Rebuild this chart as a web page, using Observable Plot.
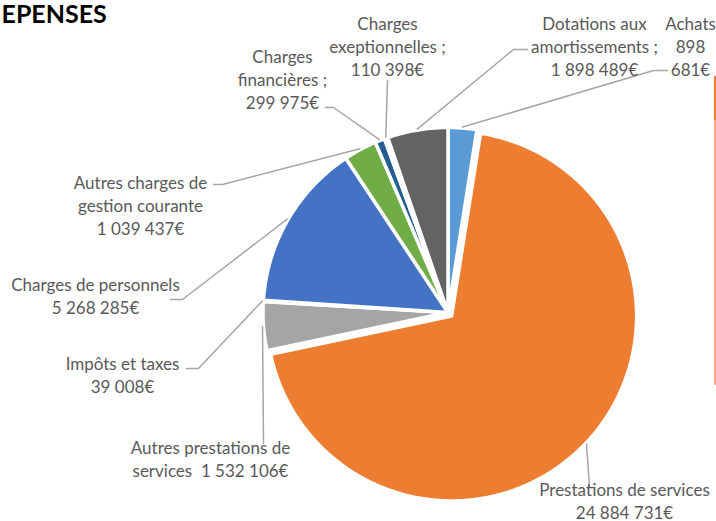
<!DOCTYPE html>
<html><head><meta charset="utf-8">
<script src="https://cdn.jsdelivr.net/npm/d3@7"></script>
<script src="https://cdn.jsdelivr.net/npm/@observablehq/plot@0.6"></script>
<style>
html,body{margin:0;padding:0;background:#fff;}
#wrap{position:relative;width:716px;height:521px;overflow:hidden;}
.edge{position:absolute;left:714px;width:2px;}
</style></head><body><div id="wrap"></div>
<script>
const title = "EPENSES";
const categories = ["Achats","Prestations de services","Autres prestations de services","Impôts et taxes","Charges de personnels","Autres charges de gestion courante","Charges financières","Charges exceptionnelles","Dotations aux amortissements"];
const values = [898681,24884731,1532106,39008,5268285,1039437,299975,110398,1898489];
const labelTexts = ["Achats\n898\n681€","Prestations de services\n24 884 731€","Autres prestations de\nservices  1 532 106€","Impôts et taxes\n39 008€","Charges de personnels\n5 268 285€","Autres charges de\ngestion courante\n1 039 437€","Charges\nfinancières ;\n299 975€","Charges\nexeptionnelles ;\n110 398€","Dotations aux\namortissements ;\n1 898 489€"];
const colors = ["#5B9BD5","#ED7D31","#A5A5A5","#FFC000","#4472C4","#70AD47","#255E91","#9E480E","#636363"];

// layout (presentation only)
const pie = {cx: 447.5, cy: 312, r: 185};
const explode = {"Prestations de services": 5};
const labelLayout = [
  {x:690, y:45,  elbow:[[667,70],[653,70]]},
  {x:624, y:500, elbow:[[589,486]]},
  {x:210, y:458, elbow:[[263,443]]},
  {x:122, y:374, elbow:[[186,368],[198,368]]},
  {x:95,  y:295, elbow:[[170,299],[182,299]]},
  {x:140, y:204, elbow:[[213,184],[222,184]]},
  {x:282, y:78,  elbow:[[325,107],[333,107]]},
  {x:387, y:45,  elbow:[[387,80]]},
  {x:594, y:45,  elbow:[[527,49],[513,49]]}
];

const arcs = d3.pie().sort(null).value(d => d)(values);
const slicePts = [], leaderPts = [], labels = [];
arcs.forEach((a, i) => {
  const name = categories[i];
  const mid = (a.startAngle + a.endAngle) / 2;
  const off = explode[name] || 0;
  const cx = pie.cx + off * Math.sin(mid), cy = pie.cy - off * Math.cos(mid);
  slicePts.push({name, x: cx, y: cy});
  const n = Math.max(2, Math.ceil((a.endAngle - a.startAngle) / (Math.PI / 360)));
  for (let k = 0; k <= n; k++) {
    const t = a.startAngle + (a.endAngle - a.startAngle) * k / n;
    slicePts.push({name, x: cx + pie.r * Math.sin(t), y: cy - pie.r * Math.cos(t)});
  }
  const L = labelLayout[i];
  L.elbow.forEach(([x, y]) => leaderPts.push({name, x, y}));
  leaderPts.push({name, x: cx + (pie.r + 1) * Math.sin(mid), y: cy - (pie.r + 1) * Math.cos(mid)});
  labels.push({name, x: L.x, y: L.y, text: labelTexts[i]});
});

const chart = Plot.plot({
  width: 716, height: 521, margin: 0,
  style: {fontFamily: "Lato, sans-serif", background: "#fff"},
  x: {domain: [0, 716], range: [0, 716], axis: null},
  y: {domain: [0, 521], range: [0, 521], axis: null},
  color: {domain: categories, range: colors},
  marks: [
    Plot.line(slicePts, {x: "x", y: "y", z: "name", fill: "name", stroke: "white", strokeWidth: 3.5, strokeLinejoin: "round", curve: "linear-closed"}),
    Plot.line(leaderPts, {x: "x", y: "y", z: "name", stroke: "#A6A6A6", strokeWidth: 1.5}),
    Plot.text(labels, {x: "x", y: "y", text: "text", textAnchor: "middle", lineAnchor: "middle", lineHeight: 23/17, fontSize: 17, fill: "#595959"}),
    Plot.text([title], {frameAnchor: "top-left", text: d => d, textAnchor: "start", lineAnchor: "top", fontSize: 25, fontWeight: "bold", fill: "#000", dx: 1, dy: 5})
  ]
});
const wrap = document.getElementById("wrap");
wrap.appendChild(chart);
const e1 = document.createElement("div"); e1.className = "edge"; e1.style.top = "76px"; e1.style.height = "44px"; e1.style.background = "#ED7D31"; wrap.appendChild(e1);
const e2 = document.createElement("div"); e2.className = "edge"; e2.style.top = "120px"; e2.style.height = "265px"; e2.style.background = "#F4B183"; wrap.appendChild(e2);
</script></body></html>
